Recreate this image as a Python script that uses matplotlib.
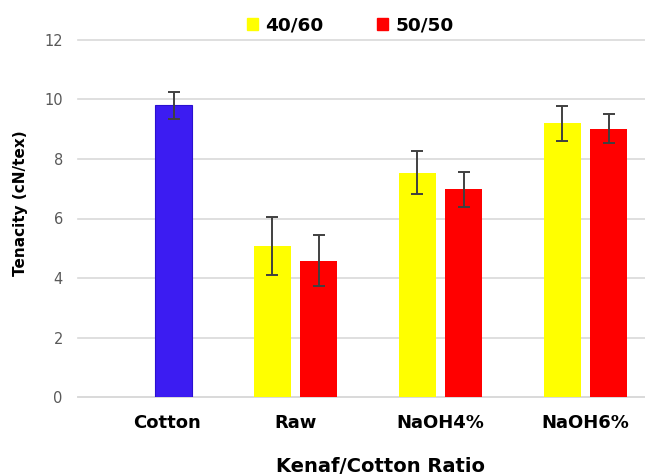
import numpy as np
import matplotlib
matplotlib.use('Agg')
import matplotlib.pyplot as plt
from matplotlib.patches import Patch

categories = ['Cotton', 'Raw', 'NaOH4%', 'NaOH6%']
cotton_value = 9.8
cotton_err = 0.45
blend_labels = ['40/60', '50/50']
blend_4060 = [5.08, 7.54, 9.2]
err_4060 = [0.97, 0.72, 0.58]
blend_5050 = [4.58, 6.98, 9.02]
err_5050 = [0.86, 0.58, 0.5]

grid_col = '#d9d9d9'
err_col = '#404040'

fig = plt.figure(figsize=(6.45, 4.75), dpi=100)
ax = fig.add_axes([0.121, 0.164, 0.879, 0.752])

# blends sit at 1..3, cotton bar is nudged right like in the original
xb = np.arange(1, 4)
w = 0.255
off = 0.16
ekw = dict(ecolor=err_col, elinewidth=1.4, capsize=4, capthick=1.4)

ax.bar(0.16, cotton_value, w, yerr=cotton_err, color='#3c1cf2',
       edgecolor='#2a10d0', linewidth=0.8, error_kw=ekw, zorder=3)
ax.bar(xb - off, blend_4060, w, yerr=err_4060, color='#ffff00',
       error_kw=ekw, zorder=3)
ax.bar(xb + off, blend_5050, w, yerr=err_5050, color='#ff0000',
       error_kw=ekw, zorder=3)

ax.set_xlim(-0.5, 3.41)
ax.set_ylim(0, 12)
ax.set_yticks(np.arange(0, 13, 2))
ax.set_xticks([0.115, 1, 2, 3])
ax.set_xticklabels(categories, fontsize=13, fontweight='bold')
ax.tick_params(axis='x', length=0, pad=12)
ax.tick_params(axis='y', length=0, pad=11, labelsize=10.5, labelcolor='#595959')

ax.grid(axis='y', color=grid_col, linewidth=1.2, zorder=0)
for gl in ax.yaxis.get_gridlines():
    gl.set_clip_on(False)
ax.set_axisbelow(True)
for s in ['top', 'right', 'left']:
    ax.spines[s].set_visible(False)
ax.spines['bottom'].set_color(grid_col)
ax.spines['bottom'].set_linewidth(1.2)

fig.text(21 / 645, 1 - 203 / 475, 'Tenacity (cN/tex)', rotation=90,
         ha='center', va='center', fontsize=11, fontweight='bold')
fig.text(380 / 645, 1 - 466 / 475, 'Kenaf/Cotton Ratio', ha='center',
         va='center', fontsize=14, fontweight='bold')

handles = [Patch(color='#ffff00'), Patch(color='#ff0000')]
fig.legend(handles, blend_labels, loc='upper center', bbox_to_anchor=(0.543, 1.0),
           ncol=2, frameon=False, prop={'size': 13.3, 'weight': 'bold'},
           handlelength=0.6, handleheight=0.6, handletextpad=0.4,
           columnspacing=2.9)

fig.savefig('out.png', dpi=100)
